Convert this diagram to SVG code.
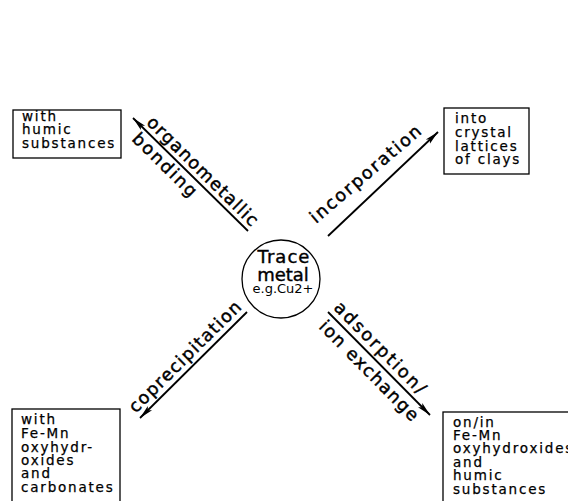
<svg xmlns="http://www.w3.org/2000/svg" width="568" height="501" viewBox="0 0 568 501">
<defs>
<style>
.box{fill:none;stroke:#000;stroke-width:1.3}
.bt{font-family:"DejaVu Sans",sans-serif;font-size:13.5px;letter-spacing:1.8px;fill:#000;stroke:#000;stroke-width:0.25}
.lab{font-family:"DejaVu Sans",sans-serif;font-size:17.5px;fill:#000;stroke:#000;stroke-width:0.45}
.conn{stroke:#000;stroke-width:1.8;fill:none;marker-end:url(#ah)}
.ct{font-family:"DejaVu Sans",sans-serif;fill:#000;text-anchor:middle}
</style>
<marker id="ah" markerUnits="userSpaceOnUse" markerWidth="16" markerHeight="10" refX="14" refY="5" orient="auto">
<path d="M0,2 L14,5 L0,8 L3,5 Z" fill="#000"/>
</marker>
</defs>
<rect width="568" height="501" fill="#fff"/>
<g id="connectors">
<line class="conn" x1="248" y1="231" x2="133" y2="118"/>
<line class="conn" x1="328" y1="236" x2="438" y2="132"/>
<line class="conn" x1="247" y1="312" x2="140" y2="418"/>
<line class="conn" x1="328" y1="312" x2="430" y2="415"/>
<g transform="translate(133,118) rotate(44.5)">
<text class="lab" x="13" y="-5" textLength="148" lengthAdjust="spacing">organometallic</text>
<text class="lab" x="14" y="17" textLength="83" lengthAdjust="spacing">bonding</text>
</g>
<g transform="translate(316,224) rotate(-40.5)">
<text class="lab" x="0" y="0" textLength="140" lengthAdjust="spacing">incorporation</text>
</g>
<g transform="translate(140,418) rotate(-44.7)">
<text class="lab" x="0" y="-6" textLength="150" lengthAdjust="spacing">coprecipitation</text>
</g>
<g transform="translate(328,312) rotate(45.3)">
<text class="lab" x="1" y="-6" textLength="122" lengthAdjust="spacing">adsorption/</text>
<text class="lab" x="4" y="18" textLength="133" lengthAdjust="spacing">ion exchange</text>
</g>
</g>
<g id="trace-metal">
<circle cx="281" cy="279" r="39" fill="none" stroke="#000" stroke-width="1.3"/>
<text class="ct" x="284" y="263" font-size="18" stroke="#000" stroke-width="0.4" letter-spacing="1">Trace</text>
<text class="ct" x="283" y="281" font-size="18" stroke="#000" stroke-width="0.4">metal</text>
<text class="ct" x="283" y="293" font-size="13">e.g.Cu2+</text>
</g>
<g id="humic">
<rect class="box" x="13" y="110" width="108" height="48"/>
<text class="bt" x="22" y="121">with</text>
<text class="bt" x="22" y="134">humic</text>
<text class="bt" x="22" y="148">substances</text>
</g>
<g id="clays">
<rect class="box" x="444" y="108" width="85" height="66"/>
<text class="bt" x="455" y="123">into</text>
<text class="bt" x="455" y="137">crystal</text>
<text class="bt" x="455" y="151">lattices</text>
<text class="bt" x="455" y="164">of clays</text>
</g>
<g id="fe-mn-carbonates">
<rect class="box" x="12" y="409" width="108" height="100"/>
<text class="bt" x="21" y="424">with</text>
<text class="bt" x="21" y="438">Fe-Mn</text>
<text class="bt" x="21" y="452">oxyhydr-</text>
<text class="bt" x="21" y="465">oxides</text>
<text class="bt" x="21" y="478">and</text>
<text class="bt" x="21" y="492">carbonates</text>
</g>
<g id="fe-mn-humic">
<rect class="box" x="443" y="412" width="140" height="100"/>
<text class="bt" x="453" y="427">on/in</text>
<text class="bt" x="453" y="440">Fe-Mn</text>
<text class="bt" x="453" y="453" letter-spacing="1.1">oxyhydroxides</text>
<text class="bt" x="453" y="467">and</text>
<text class="bt" x="453" y="480">humic</text>
<text class="bt" x="453" y="494">substances</text>
</g>
</svg>
